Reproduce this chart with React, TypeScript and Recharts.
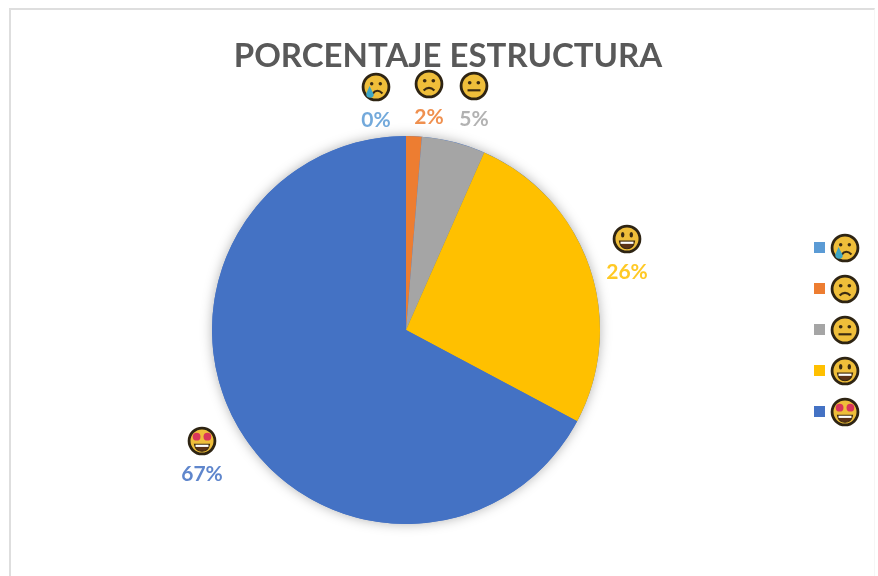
import { Legend, Pie, PieChart, Cell } from 'recharts';

const categories = ['crying', 'sad', 'neutral', 'smile', 'starstruck'];
const values = [0, 1.3, 5.3, 26.2, 67.2];
const percentLabels = ['0%', '2%', '5%', '26%', '67%'];
const colors = ['#5B9BD5', '#ED7D31', '#A5A5A5', '#FFC000', '#4472C4'];
const shadowDisc = [{ name: 'shadow', value: 100 }];

// where Excel left the data labels (percent text centre)
const labelSpots = [
  { x: 376, y: 118 },
  { x: 429, y: 115 },
  { x: 474, y: 117 },
  { x: 627, y: 270 },
  { x: 202, y: 472 },
];

function Face({ kind, x, y, r = 13 }: { kind: string; x: number; y: number; r?: number }) {
  const s = r / 13;
  const ink = '#3a2a12';
  return (
    <g transform={`translate(${x} ${y}) scale(${s})`}>
      <circle r={12} fill="#EFBE3A" stroke="#2e2413" strokeWidth={2.6} />
      {kind === 'crying' && (
        <>
          <circle cx={-4} cy={-3} r={1.6} fill={ink} />
          <circle cx={4} cy={-3} r={1.6} fill={ink} />
          <path d="M-3 6 Q1 1 6 6" stroke={ink} strokeWidth={2} fill="none" />
          <path d="M-6 -1 L-9 6 A3.4 3.4 0 0 0 -2 7 Z" fill="#3FA6C4" />
        </>
      )}
      {kind === 'sad' && (
        <>
          <circle cx={-4} cy={-3} r={1.7} fill={ink} />
          <circle cx={4} cy={-3} r={1.7} fill={ink} />
          <path d="M-5 6 Q0 1 5 6" stroke={ink} strokeWidth={2} fill="none" />
        </>
      )}
      {kind === 'neutral' && (
        <>
          <circle cx={-4} cy={-3} r={1.7} fill={ink} />
          <circle cx={4} cy={-3} r={1.7} fill={ink} />
          <path d="M-6 4 H6" stroke={ink} strokeWidth={2} fill="none" />
        </>
      )}
      {kind === 'smile' && (
        <>
          <ellipse cx={-4} cy={-4} rx={1.6} ry={2.6} fill={ink} />
          <ellipse cx={4} cy={-4} rx={1.6} ry={2.6} fill={ink} />
          <path d="M-7 2 H7 Q6 9 0 9 Q-6 9 -7 2 Z" fill="#5b3216" stroke={ink} strokeWidth={1} />
          <path d="M-6 2.5 H6 V4.5 H-6 Z" fill="#fff" />
        </>
      )}
      {kind === 'starstruck' && (
        <>
          <circle cx={-5} cy={-4} r={3.6} fill="#D8365B" />
          <circle cx={5} cy={-4} r={3.6} fill="#D8365B" />
          <path d="M-7 3 H7 Q6 9.5 0 9.5 Q-6 9.5 -7 3 Z" fill="#5b3216" stroke={ink} strokeWidth={1} />
          <path d="M-6 3.5 H6 V5.5 H-6 Z" fill="#fff" />
        </>
      )}
    </g>
  );
}

function renderLabel(props: any) {
  const i = props.index;
  const spot = labelSpots[i];
  return (
    <g key={categories[i]}>
      <Face kind={categories[i]} x={spot.x} y={spot.y - 31} r={14} />
      <text
        x={spot.x}
        y={spot.y}
        textAnchor="middle"
        dominantBaseline="central"
        fontFamily="Lato, sans-serif"
        fontWeight={700}
        fontSize={21}
        fill={colors[i]}
        opacity={0.85}
      >
        {percentLabels[i]}
      </text>
    </g>
  );
}

function LegendList({ payload }: any) {
  // the shadow disc also lands in the payload, keep only the real slices
  const entries = (payload ?? []).filter((entry: any) => categories.includes(entry.value));
  return (
    <div>
      {entries.map((entry: any, i: number) => (
        <div key={i} style={{ display: 'flex', alignItems: 'center', height: 41 }}>
          <span style={{ width: 11, height: 11, background: entry.color, marginRight: 5 }} />
          <svg width={30} height={30}>
            <Face kind={entry.value} x={15} y={15} r={14} />
          </svg>
        </div>
      ))}
    </div>
  );
}

export default function App() {
  const data = categories.map((name, i) => ({ name, value: values[i] }));

  return (
    <div
      style={{
        position: 'absolute',
        left: 0,
        top: 0,
        width: 878,
        height: 576,
        background: '#fff',
        overflow: 'hidden',
        filter: 'blur(0.5px)',
      }}
    >
      <div
        style={{
          position: 'absolute',
          left: 9,
          top: 8,
          width: 866,
          height: 600,
          borderTop: '2px solid #dedede',
          borderLeft: '2px solid #dedede',
          borderRight: '1px solid #f6f6f6',
          boxSizing: 'border-box',
        }}
      />
      <PieChart width={878} height={576} margin={{ top: 0, right: 0, bottom: 0, left: 0 }}>
        <text
          x={448}
          y={54}
          textAnchor="middle"
          dominantBaseline="central"
          fontFamily="Lato, sans-serif"
          fontWeight={700}
          fontSize={33}
          fill="#595959"
        >
          PORCENTAJE ESTRUCTURA
        </text>
        {/* soft shadow behind the whole disc, not per slice */}
        <Pie
          data={shadowDisc}
          dataKey="value"
          nameKey="name"
          cx={406}
          cy={330}
          outerRadius={194}
          stroke="none"
          fill="#4472C4"
          legendType="none"
          isAnimationActive={false}
          style={{ filter: 'drop-shadow(0 0 6px rgba(0,0,0,0.3))' }}
        />
        <Pie
          data={data}
          dataKey="value"
          nameKey="name"
          cx={406}
          cy={330}
          outerRadius={194}
          startAngle={90}
          endAngle={-270}
          stroke="none"
          label={renderLabel}
          labelLine={false}
          isAnimationActive={false}
        >
          {data.map((d, i) => (
            <Cell key={d.name} fill={colors[i]} />
          ))}
        </Pie>
        <Legend
          layout="vertical"
          itemSorter={null}
          content={<LegendList />}
          wrapperStyle={{ position: 'absolute', left: 814, top: 227, width: 60 }}
        />
      </PieChart>
    </div>
  );
}
